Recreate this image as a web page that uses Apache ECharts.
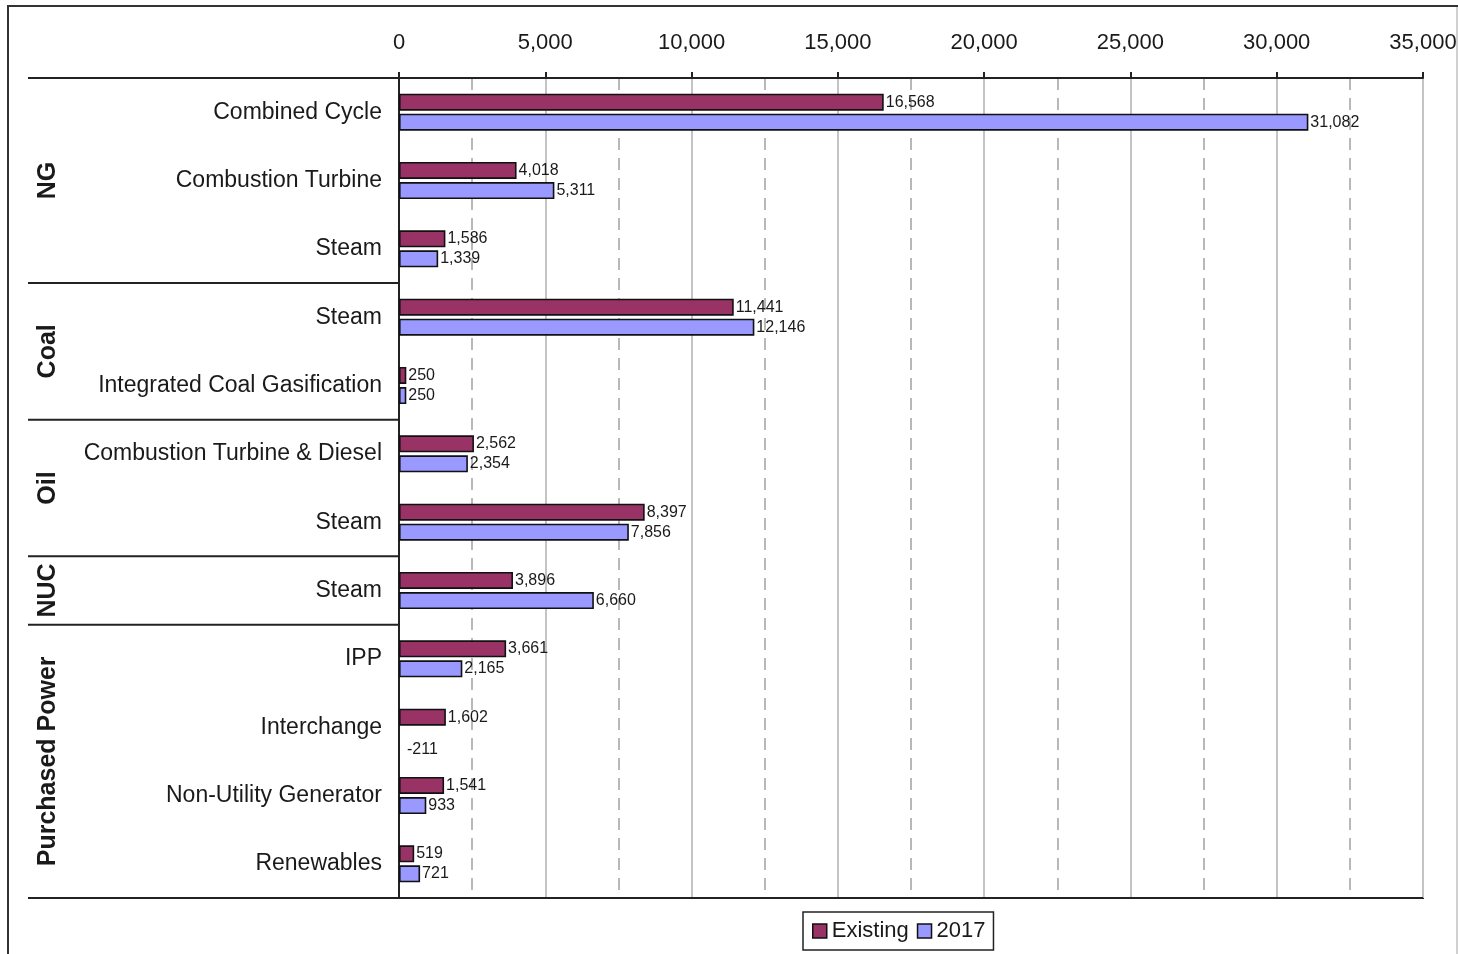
<!DOCTYPE html>
<html>
<head>
<meta charset="utf-8">
<script src="https://cdn.jsdelivr.net/npm/echarts@6/dist/echarts.min.js"></script>
<style>
html,body{margin:0;padding:0;background:#fff;}
#chart{width:1458px;height:954px;}
</style>
</head>
<body>
<div id="chart"></div>
<script>
// ---- data ----
const categories = [
  'Combined Cycle', 'Combustion Turbine', 'Steam',
  'Steam', 'Integrated Coal Gasification',
  'Combustion Turbine & Diesel', 'Steam',
  'Steam',
  'IPP', 'Interchange', 'Non-Utility Generator', 'Renewables'
];
const groupNames = ['NG', 'Coal', 'Oil', 'NUC', 'Purchased Power'];
const groupSizes = [3, 2, 2, 1, 4];
const seriesNames = ['Existing', '2017'];
const existingValues = [16568, 4018, 1586, 11441, 250, 2562, 8397, 3896, 3661, 1602, 1541, 519];
const values2017 = [31082, 5311, 1339, 12146, 250, 2354, 7856, 6660, 2165, -211, 933, 721];
const axisMin = 0, axisMax = 35000, axisStep = 5000;

const FONT = "'Liberation Sans', Arial, sans-serif";
const colors = ['#993366', '#9999FF'];

const chart = echarts.init(document.getElementById('chart'), null, {renderer: 'canvas'});

function barData(values) {
  // values below the axis minimum keep their label but the bar itself is not visible
  return values.map(v => v < axisMin
    ? {value: v, itemStyle: {color: 'rgba(0,0,0,0)', borderWidth: 0},
       label: {offset: [6, 12]}}
    : v);
}

function barSeries(name, values, color) {
  return {
    name: name,
    type: 'bar',
    data: barData(values),
    clip: false,
    barWidth: 17,
    barGap: '18%',
    barCategoryGap: '46%',
    itemStyle: {color: color, borderColor: '#111', borderWidth: 1.6},
    label: {
      show: true,
      position: 'right',
      distance: 2,
      fontFamily: FONT,
      fontSize: 16,
      color: '#1a1a1a',
      formatter: p => p.value.toLocaleString('en-US')
    },
    emphasis: {disabled: true}
  };
}

const option = {
  animation: false,
  backgroundColor: '#fff',
  grid: {
    left: 399, right: 35, top: 78, bottom: 56,
    outerBoundsMode: 'none',
    containLabel: false,
    show: true, borderColor: '#222', borderWidth: 2, backgroundColor: 'transparent'
  },
  legend: {
    left: 803, top: 912,
    data: seriesNames,
    itemWidth: 14, itemHeight: 14, itemGap: 8,
    padding: [8, 8, 8, 9],
    borderColor: '#222', borderWidth: 1.5,
    icon: 'rect',
    textStyle: {fontFamily: FONT, fontSize: 22, color: '#1a1a1a', padding: [0, 0, 0, 0]},
    itemStyle: {borderColor: '#111', borderWidth: 1.5}
  },
  xAxis: {
    type: 'value',
    position: 'top',
    min: axisMin, max: axisMax, interval: axisStep,
    axisLine: {show: true, lineStyle: {color: '#222', width: 2}},
    axisTick: {show: true, length: 6, lineStyle: {color: '#222', width: 2}},
    axisLabel: {
      fontFamily: FONT, fontSize: 22, color: '#1a1a1a', margin: 24,
      formatter: v => v.toLocaleString('en-US')
    },
    splitLine: {show: true, lineStyle: {color: '#c4c4c4', width: 2}},
    minorTick: {show: false, splitNumber: 2},
    minorSplitLine: {show: true, lineStyle: {color: '#b8b8b8', width: 2, type: [12, 8]}}
  },
  yAxis: {
    type: 'category',
    inverse: true,
    data: categories,
    axisLine: {show: true, lineStyle: {color: '#222', width: 2}},
    axisTick: {show: false},
    axisLabel: {fontFamily: FONT, fontSize: 23, color: '#1a1a1a', margin: 17},
    splitLine: {show: false}
  },
  series: [
    barSeries(seriesNames[0], existingValues, colors[0]),
    barSeries(seriesNames[1], values2017, colors[1])
  ]
};
chart.setOption(option);

// ---- group separators & labels, positioned with the axis scales ----
function drawGroups() {
  const yPix = categories.map((c, i) => chart.convertToPixel({yAxisIndex: 0}, i));
  const band = yPix.length > 1 ? (yPix[1] - yPix[0]) : 0;
  const x0 = chart.convertToPixel({xAxisIndex: 0}, axisMin);
  const x1 = chart.convertToPixel({xAxisIndex: 0}, axisMax);
  const leftX = 28;
  const labelX = 48;
  const elements = [];
  let idx = 0;
  const bounds = [yPix[0] - band / 2];
  groupSizes.forEach(n => {
    idx += n;
    bounds.push(yPix[idx - 1] + band / 2);
  });
  bounds.forEach((y, k) => {
    elements.push({
      type: 'line', silent: true,
      shape: {x1: leftX, y1: y, x2: (k === 0 || k === bounds.length - 1) ? x1 : x0, y2: y},
      style: {stroke: '#222', lineWidth: 2}
    });
  });
  groupNames.forEach((g, k) => {
    const cy = (bounds[k] + bounds[k + 1]) / 2;
    elements.push({
      type: 'text', silent: true,
      x: labelX, y: cy, rotation: Math.PI / 2,
      style: {
        text: g, fontFamily: FONT, fontWeight: 'bold',
        fontSize: 25, fill: '#1a1a1a', align: 'center', verticalAlign: 'middle'
      }
    });
  });
  // outer frame
  elements.push({
    type: 'rect', silent: true, z: -1,
    shape: {x: 8, y: 6, width: 1470, height: 960},
    style: {fill: 'none', stroke: '#333', lineWidth: 2}
  });
  elements.push({
    type: 'line', silent: true,
    shape: {x1: 1457, y1: 7, x2: 1457, y2: 954},
    style: {stroke: '#d0d0d0', lineWidth: 2}
  });
  chart.setOption({graphic: {elements: elements}});
}
drawGroups();
</script>
</body>
</html>
